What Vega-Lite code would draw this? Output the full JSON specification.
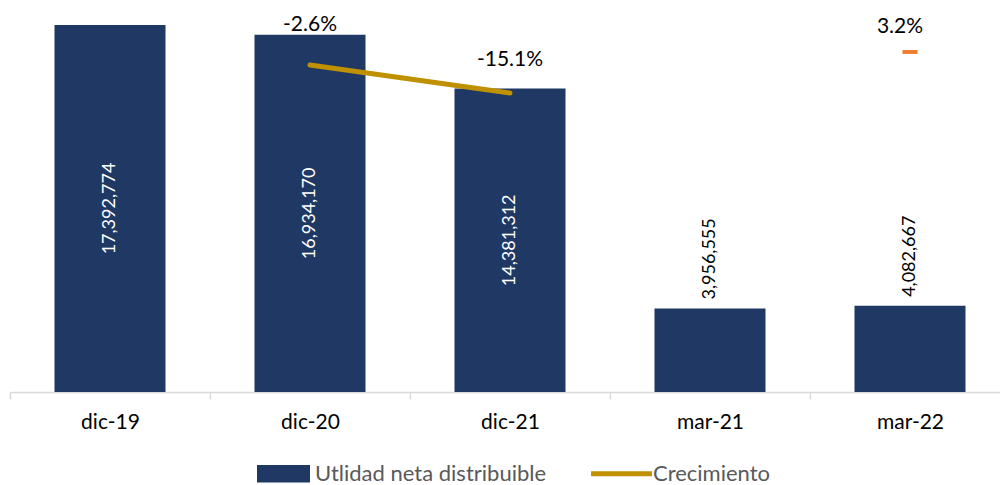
{
  "$schema": "https://vega.github.io/schema/vega-lite/v6.json",
  "width": 990,
  "height": 392,
  "autosize": {"type": "none"},
  "padding": {"left": 10, "top": 0, "right": 0, "bottom": 93},
  "background": "white",
  "config": {
    "view": {"stroke": null},
    "font": "Lato",
    "text": {"font": "Lato"},
    "locale": {
      "number": {"decimal": ".", "thousands": ",", "grouping": [3], "currency": ["$", ""], "minus": "-"}
    }
  },
  "data": {
    "values": [
      {"periodo": "dic-19", "tipo": "anual", "utilidad": 17392774, "crecimiento": null},
      {"periodo": "dic-20", "tipo": "anual", "utilidad": 16934170, "crecimiento": -0.026},
      {"periodo": "dic-21", "tipo": "anual", "utilidad": 14381312, "crecimiento": -0.151},
      {"periodo": "mar-21", "tipo": "trimestral", "utilidad": 3956555, "crecimiento": null},
      {"periodo": "mar-22", "tipo": "trimestral", "utilidad": 4082667, "crecimiento": 0.032}
    ]
  },
  "encoding": {
    "x": {
      "field": "periodo",
      "type": "nominal",
      "sort": null,
      "scale": {"range": [0, 1000], "paddingInner": 0, "paddingOuter": 0},
      "axis": {
        "title": null,
        "labelAngle": 0,
        "domainColor": "#D9D9D9",
        "domainWidth": 1.5,
        "tickColor": "#D9D9D9",
        "tickWidth": 1.5,
        "tickSize": 7,
        "tickBand": "extent",
        "labelFont": "Lato",
        "labelFontSize": 21,
        "labelColor": "#000000",
        "labelPadding": 12,
        "grid": false
      }
    }
  },
  "layer": [
    {
      "encoding": {
        "y": {
          "field": "utilidad",
          "type": "quantitative",
          "scale": {"domain": [0, 18580000], "nice": false, "zero": true},
          "axis": null
        }
      },
      "layer": [
        {
          "mark": {"type": "bar", "color": "#203864", "width": {"band": 0.555}}
        },
        {
          "transform": [{"filter": "datum.utilidad < 10000000"}],
          "mark": {
            "type": "text",
            "angle": 270,
            "align": "left",
            "baseline": "middle",
            "dx": 9,
            "font": "Lato",
            "fontSize": 18,
            "color": "#000000"
          },
          "encoding": {
            "text": {"field": "utilidad", "type": "quantitative", "format": ",d"}
          }
        },
        {
          "mark": {"type": "point", "filled": true, "opacity": 0},
          "encoding": {
            "color": {
              "datum": "Utlidad neta distribuible",
              "scale": {"domain": ["Utlidad neta distribuible", "Crecimiento"], "range": ["#203864", "#BF9000"]},
              "legend": {
                "title": null,
                "orient": "none",
                "legendX": 247,
                "legendY": 447,
                "direction": "horizontal",
                "symbolSize": 2809,
                "symbolOpacity": 1,
                "symbolStrokeWidth": 0,
                "labelFont": "Lato",
                "labelFontSize": 22,
                "labelColor": "#595959",
                "labelOffset": 5,
                "labelLimit": 500,
                "columnPadding": 44
              }
            },
            "shape": {
              "datum": "Utlidad neta distribuible",
              "scale": {"domain": ["Utlidad neta distribuible", "Crecimiento"], "range": ["M-1,-0.33H1V0.33H-1Z", "M-1.15,-0.095H1.15V0.095H-1.15Z"]},
              "legend": {
                "title": null,
                "orient": "none",
                "legendX": 247,
                "legendY": 447,
                "direction": "horizontal",
                "symbolSize": 2809,
                "symbolOpacity": 1,
                "symbolStrokeWidth": 0,
                "labelFont": "Lato",
                "labelFontSize": 22,
                "labelColor": "#595959",
                "labelOffset": 5,
                "labelLimit": 500,
                "columnPadding": 44
              }
            }
          }
        }
      ]
    },
    {
      "transform": [{"filter": "datum.utilidad >= 10000000"}],
      "mark": {
        "type": "text",
        "angle": 270,
        "align": "center",
        "baseline": "middle",
        "font": "Lato",
        "fontSize": 18,
        "color": "#FFFFFF"
      },
      "encoding": {
        "y": {
          "field": "utilidad",
          "type": "quantitative",
          "scale": {"domain": [0, 37160000], "nice": false, "zero": true},
          "axis": null
        },
        "text": {"field": "utilidad", "type": "quantitative", "format": ",d"}
      }
    },
    {
      "encoding": {
        "y": {
          "field": "crecimiento",
          "type": "quantitative",
          "scale": {"domain": [-1.486, 0.264], "nice": false, "zero": false},
          "axis": null
        }
      },
      "layer": [
        {
          "transform": [{"filter": "datum.tipo == 'anual' && datum.crecimiento != null"}],
          "mark": {"type": "line", "color": "#BF9000", "strokeWidth": 5, "strokeCap": "round"}
        },
        {
          "transform": [{"filter": "datum.tipo == 'trimestral' && datum.crecimiento != null"}],
          "mark": {"type": "tick", "color": "#ED7D31", "opacity": 1, "size": 15, "thickness": 4, "orient": "horizontal"}
        },
        {
          "transform": [{"filter": "datum.periodo == 'dic-20'"}],
          "mark": {"type": "text", "baseline": "middle", "align": "center", "dy": -40, "font": "Lato", "fontSize": 21, "color": "#000000"},
          "encoding": {"text": {"field": "crecimiento", "type": "quantitative", "format": ".1%"}}
        },
        {
          "transform": [{"filter": "datum.periodo == 'dic-21'"}],
          "mark": {"type": "text", "baseline": "middle", "align": "center", "dy": -33, "font": "Lato", "fontSize": 21, "color": "#000000"},
          "encoding": {"text": {"field": "crecimiento", "type": "quantitative", "format": ".1%"}}
        },
        {
          "transform": [{"filter": "datum.periodo == 'mar-22'"}],
          "mark": {"type": "text", "baseline": "middle", "align": "center", "dy": -25, "dx": -10, "font": "Lato", "fontSize": 21, "color": "#000000"},
          "encoding": {"text": {"field": "crecimiento", "type": "quantitative", "format": ".1%"}}
        },
        {
          "transform": [{"filter": "datum.crecimiento != null"}],
          "mark": {"type": "point", "filled": true, "opacity": 0},
          "encoding": {
            "color": {
              "datum": "Crecimiento",
              "scale": {"domain": ["Utlidad neta distribuible", "Crecimiento"], "range": ["#203864", "#BF9000"]}
            },
            "shape": {
              "datum": "Crecimiento",
              "scale": {"domain": ["Utlidad neta distribuible", "Crecimiento"], "range": ["M-1,-0.33H1V0.33H-1Z", "M-1.15,-0.095H1.15V0.095H-1.15Z"]}
            }
          }
        }
      ]
    }
  ],
  "resolve": {"scale": {"y": "independent"}}
}
